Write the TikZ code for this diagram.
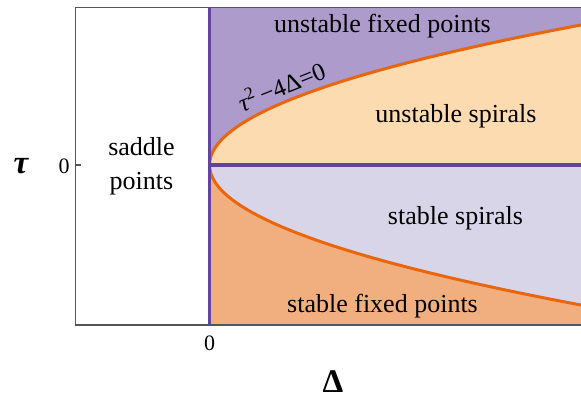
\documentclass[tikz,border=0pt]{standalone}
\usepackage{fontspec}
\setmainfont{Liberation Serif}
\definecolor{topc}{RGB}{172,155,203}
\definecolor{uspc}{RGB}{253,219,176}
\definecolor{sspc}{RGB}{217,213,233}
\definecolor{sfpc}{RGB}{241,175,128}
\definecolor{curvec}{RGB}{233,102,12}
\definecolor{linec}{RGB}{98,68,160}
\definecolor{framec}{RGB}{85,85,85}
\tikzset{
  region/.style={font=\fontsize{26}{30}\selectfont, anchor=base, inner sep=0pt},
  ticklab/.style={font=\fontsize{22}{26}\selectfont, anchor=base, inner sep=0pt},
  axlab/.style={font=\fontsize{33}{36}\selectfont\bfseries, anchor=base, inner sep=0pt},
  curve/.style={curvec, line width=3pt},
  axisline/.style={linec, line width=3.5pt},
  frame/.style={framec, line width=1.2pt}
}
\begin{document}
\begin{tikzpicture}[x=1pt,y=-1pt]
\useasboundingbox (0,0) rectangle (581,399);
\coordinate (v) at (209.5,165);
\coordinate (ut) at (581,25);
\coordinate (lb) at (581,305);
% regions
\fill[topc] (209.5,7.5) -- (v) .. controls (209.5,118.33) and (333,71.67) .. (ut) -- (581,7.5) -- cycle;
\fill[uspc] (v) .. controls (209.5,118.33) and (333,71.67) .. (ut) -- (581,165) -- cycle;
\fill[sspc] (v) -- (581,165) -- (lb) .. controls (333,258.33) and (209.5,211.67) .. (v) -- cycle;
\fill[sfpc] (v) .. controls (209.5,211.67) and (333,258.33) .. (lb) -- (581,325) -- (209.5,325) -- cycle;
% frame
\draw[frame] (581,7.5) -- (75.5,7.5) -- (75.5,325) -- (581,325);
\draw[frame] (75.5,165) -- (81,165);
% curves
\draw[curve] (v) .. controls (209.5,118.33) and (333,71.67) .. (ut);
\draw[curve] (v) .. controls (209.5,211.67) and (333,258.33) .. (lb);
% axes lines
\draw[axisline] (209.5,7.5) -- (209.5,326);
\draw[axisline] (v) -- (581,165);
% labels
\node[region] (ufp) at (382.5,32) {unstable fixed points};
\node[region] (usp) at (456,122) {unstable spirals};
\node[region] (ssp) at (455.5,224) {stable spirals};
\node[region] (sfp) at (382.5,312) {stable fixed points};
\node[region] (sad1) at (141.5,155) {saddle};
\node[region] (sad2) at (141.5,189) {points};
\node[font=\fontsize{25}{28}\selectfont, anchor=base, inner sep=0pt, rotate=22] (par) at (285,95) {\itshape τ\textsuperscript{\upshape 2}\,\upshape−4Δ=0};
\node[ticklab] (t0) at (64,173) {0};
\node[ticklab] (d0) at (209.5,350) {0};
\node[axlab] (tau) at (21,173) {\itshape τ};
\node[axlab] (del) at (333,392) {Δ};
\end{tikzpicture}
\end{document}
